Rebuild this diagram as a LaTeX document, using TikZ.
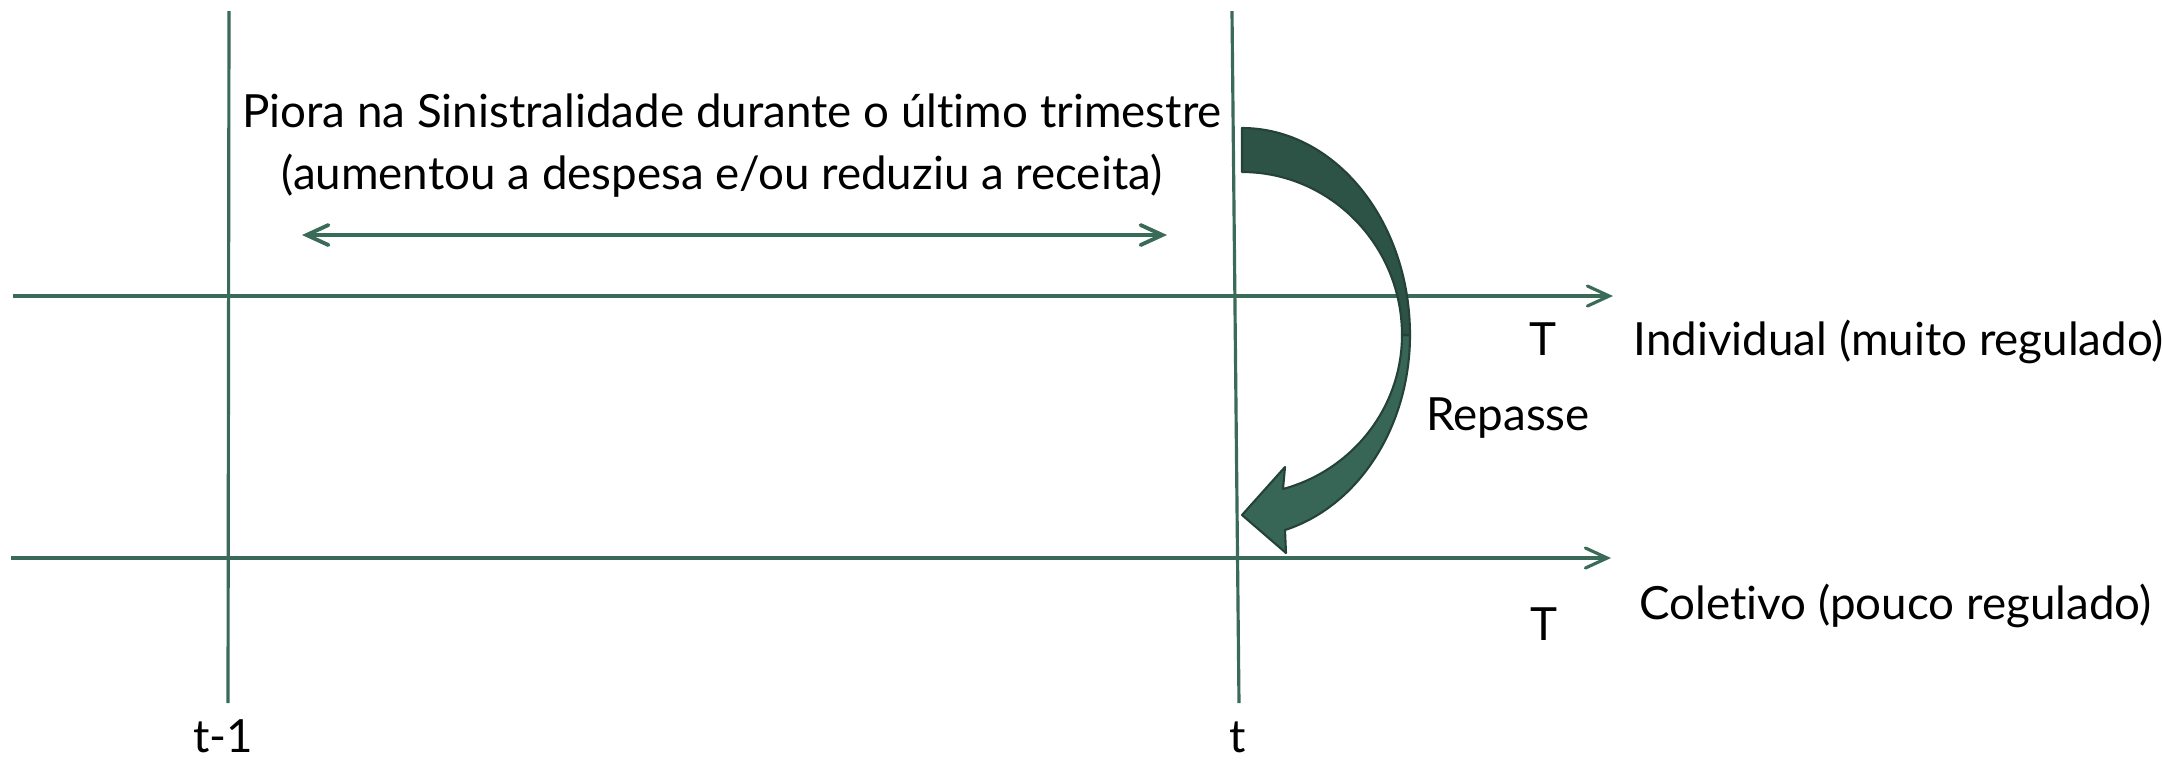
\documentclass[tikz,border=0pt]{standalone}
\usepackage{fontspec}
\setmainfont{Lato}[Ligatures=NoCommon]
\usetikzlibrary{arrows.meta}

\definecolor{axisgreen}{RGB}{58,106,88}
\definecolor{arrowdark}{RGB}{44,83,69}
\definecolor{arrowlight}{RGB}{56,102,86}
\definecolor{arrowedge}{RGB}{36,66,55}

\tikzstyle{lbl}=[inner sep=0pt, font=\fontsize{13}{15}\selectfont]
\tikzstyle{time line} = [draw, axisgreen, line width=0.9pt]
\tikzstyle{axis} = [draw, axisgreen, line width=0.9pt, -{Straight Barb[length=6.2pt,width=5.7pt,line cap=round]}]
\tikzstyle{span} = [draw, axisgreen, line width=1.1pt, {Straight Barb[length=6.2pt,width=5.7pt,line cap=round]}-{Straight Barb[length=6.2pt,width=5.7pt,line cap=round]}]
\tikzstyle{bend arrow} = [draw=arrowedge, line width=0.6pt, line join=round]

\begin{document}
\begin{tikzpicture}[x=0.01cm,y=-0.01cm]
	\useasboundingbox (0,0) rectangle (2162,759);
		% ends of the time lines and axes
		\coordinate (prevtop) at (229,11);
		\coordinate (prevbot) at (228,703);
		\coordinate (nowtop) at (1232,11);
		\coordinate (nowbot) at (1239,703);
		\coordinate (indstart) at (13,296);
		\coordinate (indend) at (1613,296);
		\coordinate (colstart) at (11,558);
		\coordinate (colend) at (1611,558);
		\coordinate (spanl) at (302,235);
		\coordinate (spanr) at (1167,235);
		% texts
		\node[lbl,anchor=base] (title) at (732,127) {Piora na Sinistralidade durante o último trimestre};
		\node[lbl,anchor=base] (subtitle) at (722,189) {(aumentou a despesa e/ou reduziu a receita)};
		\node[lbl,anchor=base] (tind) at (1543,355) {T};
		\node[lbl,anchor=base] (tcol) at (1544,640) {T};
		\node[lbl,anchor=base west] (ind) at (1633,355) {Individual (muito regulado)};
		\node[lbl,anchor=base west] (col) at (1639,619) {Coletivo (pouco regulado)};
		\node[lbl,anchor=base] (repasse) at (1508,430) {Repasse};
		\node[lbl,anchor=base] (prev) at (223,752) {t-1};
		\node[lbl,anchor=base] (now) at (1238,752) {t};
		% time lines and axes
		\foreach \source/ \dest in {prevtop/prevbot, nowtop/nowbot}
		\path[time line] (\source) -- (\dest);
		\foreach \source/ \dest in {indstart/indend, colstart/colend}
		\path[axis] (\source) -- (\dest);
		\path[span] (spanl) -- (spanr);
		% curved arrow: lower (light) part first, then upper (dark) part
		\path[bend arrow, fill=arrowlight] (1410,335) .. controls (1410,426) and (1359,506) .. (1285,530)
			-- (1286,553) -- (1242,515) -- (1285,467) -- (1283,489)
			.. controls (1353,470) and (1402,407) .. (1402,335) -- cycle;
		\path[bend arrow, fill=arrowdark] (1242,128) .. controls (1335,128) and (1410,221) .. (1410,335)
			-- (1402,335) .. controls (1402,245) and (1330,172) .. (1242,172) -- cycle;
\end{tikzpicture}
\end{document}
